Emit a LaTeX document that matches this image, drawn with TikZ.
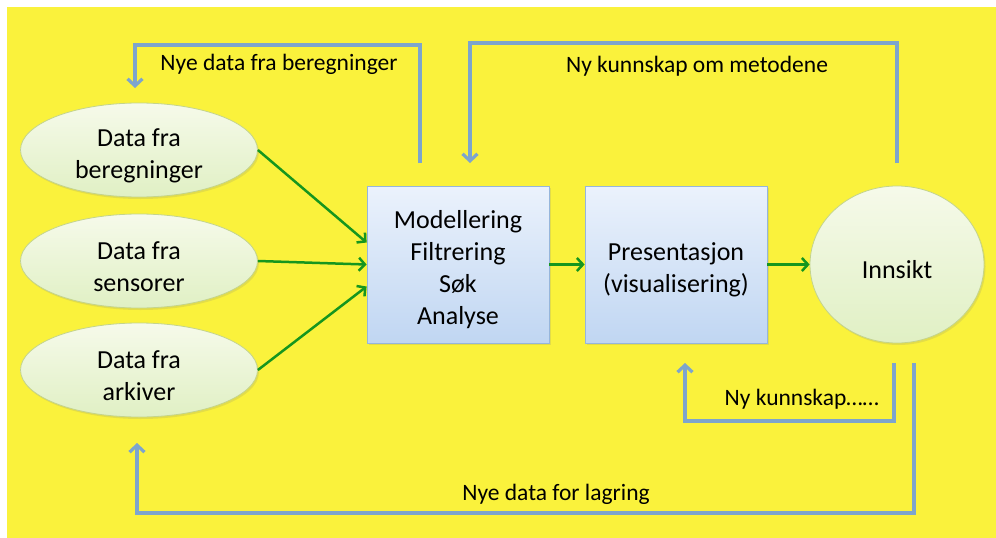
\documentclass[tikz,border=0pt]{standalone}
\usepackage{fontspec}
\setmainfont{Carlito}
\usetikzlibrary{arrows.meta,shapes.geometric,shadows}
\definecolor{bgyellow}{RGB}{250,242,60}
\definecolor{elltop}{RGB}{246,250,234}
\definecolor{ellbot}{RGB}{224,240,196}
\definecolor{ellborder}{RGB}{196,212,140}
\definecolor{boxtop}{RGB}{235,242,252}
\definecolor{boxbot}{RGB}{192,214,242}
\definecolor{boxborder}{RGB}{150,182,220}
\definecolor{arrgreen}{RGB}{22,150,30}
\definecolor{arrblue}{RGB}{125,165,205}
\newcommand\ndfont{\fontsize{26}{32}\selectfont}
\newcommand\lbfont{\fontsize{23.5}{28}\selectfont}
\newcommand\tp{\rule{0pt}{29pt}}
\begin{document}
\begin{tikzpicture}[x=1pt,y=-1pt,
  ell/.style={ellipse, draw=ellborder, line width=0.8pt, top color=elltop, bottom color=ellbot,
    minimum width=237pt, minimum height=94pt, inner sep=0pt, align=center, font=\ndfont,
    drop shadow={opacity=0.18,shadow xshift=1.5pt,shadow yshift=-2pt}},
  procbox/.style={rectangle, draw=boxborder, line width=0.8pt, top color=boxtop, bottom color=boxbot,
    minimum width=182pt, minimum height=157pt, inner sep=0pt, align=center, font=\ndfont,
    drop shadow={opacity=0.18,shadow xshift=1.5pt,shadow yshift=-2pt}},
  garrow/.style={draw=arrgreen, line width=2.5pt, -{Straight Barb[length=6pt,width=13pt]}},
  barrow/.style={draw=arrblue, line width=3.2pt, -{Straight Barb[length=7pt,width=15pt]}},
  lbl/.style={font=\lbfont, inner sep=0pt}]
\useasboundingbox (0,0) rectangle (996,538);
\fill[white] (0,0) rectangle (996,538);
\fill[bgyellow] (7,7) rectangle (996,538);

% nodes
\node[ell] (e1) at (139,150) {\tp Data fra\\beregninger};
\node[ell] (e2) at (139,261) {\tp Data fra\\sensorer};
\node[ell] (e3) at (139,370) {\tp Data fra\\arkiver};
\node[procbox] (p1) at (458,264.5) {\tp Modellering\\Filtrering\\Søk\\Analyse};
\node[procbox] (p2) at (676,264.5) {\tp Presentasjon\\(visualisering)};
\node[ell, minimum width=174pt, minimum height=157pt] (ins) at (897,264.5) {\tp Innsikt};

% green arrows
\draw[garrow] (e1.east) -- ([yshift=22pt]p1.west);
\draw[garrow] (e2.east) -- (p1.west);
\draw[garrow] (e3.east) -- ([yshift=-22pt]p1.west);
\draw[garrow] (p1) -- (p2);
\draw[garrow] (p2) -- (ins);

% blue feedback connectors
\coordinate (b1s) at (420,163); \coordinate (b1e) at (135,88);
\coordinate (b2s) at (897,163); \coordinate (b2e) at (470,163);
\coordinate (b3s) at (894,363); \coordinate (b3e) at (685,363);
\coordinate (b4s) at (914,363); \coordinate (b4e) at (137,443);
\draw[barrow] (b1s) -- ++(0,-118) -| (b1e);
\draw[barrow] (b2s) -- ++(0,-120) -| (b2e);
\draw[barrow] (b3s) -- ++(0,58) -| (b3e);
\draw[barrow] (b4s) -- ++(0,150) -| (b4e);

% labels
\node[lbl] (l1) at (279,64) {Nye data fra beregninger};
\node[lbl] (l2) at (697,66) {Ny kunnskap om metodene};
\node[lbl, anchor=east] (l3) at (879,399) {Ny kunnskap……};
\node[lbl] (l4) at (556,494) {Nye data for lagring};
\end{tikzpicture}
\end{document}
